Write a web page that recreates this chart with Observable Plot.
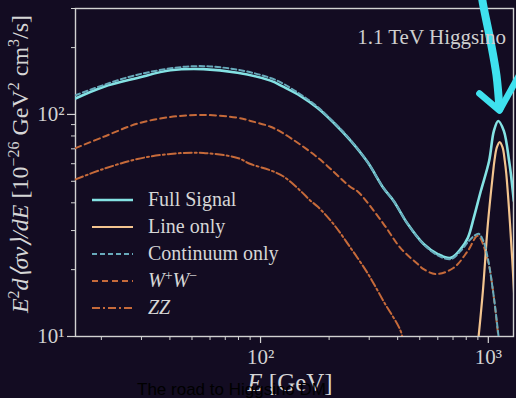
<!DOCTYPE html>
<html>
<head>
<meta charset="utf-8">
<script src="https://cdn.jsdelivr.net/npm/d3@7"></script>
<script src="https://cdn.jsdelivr.net/npm/@observablehq/plot@0.6"></script>
<style>
  html, body { margin: 0; padding: 0; background: #130c22; }
  #chart { position: relative; width: 516px; height: 398px; overflow: hidden; background: #130c22; }
</style>
</head>
<body>
<div id="chart"></div>
<script>
// ---- data (E in GeV, value in 1e-26 GeV^2 cm^3/s) ----
const E_full = [15.4, 20.4, 28.8, 40.2, 56.1, 79.2, 110.6, 126.3, 150, 178, 209, 249, 295, 347, 384, 443, 520, 600, 684, 757, 813, 863, 927, 1008, 1058, 1105, 1170, 1234, 1256, 1294];
const V_full = [118, 133, 146, 158, 160, 154, 142, 133, 121, 107, 92, 76, 61, 46.5, 40.8, 32.1, 26.1, 23.5, 22.6, 24.8, 27.8, 34.2, 45.2, 61.7, 84.3, 93.5, 84.3, 61.7, 54, 40.8];

const E_line = [880, 910, 947, 996, 1048, 1064, 1090, 1122, 1155, 1181, 1199, 1245, 1296, 1330];
const V_line = [7.5, 10.4, 16.1, 32.3, 54.2, 62, 71, 75, 71, 62, 54.2, 32.3, 16.1, 9];

const E_cont = [15.4, 28.8, 56.1, 110.6, 150, 178, 209, 249, 295, 347, 384, 443, 520, 600, 684, 757, 813, 863, 908, 950, 995, 1058, 1112, 1140];
const V_cont = [122, 151, 165, 146, 123, 108, 92.5, 76.5, 61, 46.5, 40.8, 32.1, 26, 23.2, 22.3, 24.3, 26.6, 28.3, 29, 27, 22.5, 15, 9.8, 8];

const E_ww = [15.4, 20.4, 28.8, 40.2, 56.1, 79.2, 90.4, 110.6, 126.3, 178, 249, 267, 347, 412, 490, 520, 590, 705, 813, 900, 995, 1047, 1112, 1140];
const V_ww = [70.5, 79.2, 90.9, 97.4, 99.5, 96.7, 93.5, 88, 82, 64, 47, 45, 32.1, 25, 21.2, 20.1, 19.1, 20.4, 24.3, 28.4, 22, 16.2, 9.6, 8];

const E_zz = [15.4, 20.4, 28.8, 40.2, 56.1, 79.2, 90.4, 110.6, 126.3, 150, 166, 178, 209, 249, 295, 347, 412, 425, 440];
const V_zz = [51, 56.8, 63, 66.4, 67.1, 63.7, 59.8, 56, 52.5, 45.2, 40.8, 38.5, 32.1, 25, 19.3, 14.4, 10.6, 9.2, 8];

// annotation arrow (drawn on the slide), in data coordinates
const E_arrowShaft = [933, 942, 1022, 1086, 1119];
const V_arrowShaft = [361, 326, 215, 150, 106.3];
const E_arrowHead = [914, 1119, 1356];
const V_arrowHead = [124.2, 104.1, 148.2];

const xMajor = [100, 1000];
const xTickLabels = ["10²", "10³"];
const xMinor = [20, 30, 40, 50, 60, 70, 80, 90, 200, 300, 400, 500, 600, 700, 800, 900];
const yMajor = [10, 100];
const yTickLabels = ["10¹", "10²"];
const yMinor = [20, 30, 40, 50, 60, 70, 80, 90, 200, 300];

const seriesNames = ["Full Signal", "Line only", "Continuum only", "W+W−", "ZZ"];
const titleText = "1.1 TeV Higgsino";
const captionText = "The road to Higgsino DM";

// ---- build tables ----
const toRows = (E, V) => E.map((e, i) => ({E: e, v: V[i]}));
const full = toRows(E_full, V_full);
const line = toRows(E_line, V_line);
const cont = toRows(E_cont, V_cont);
const ww = toRows(E_ww, V_ww);
const zz = toRows(E_zz, V_zz);
const shaft = toRows(E_arrowShaft, V_arrowShaft);
const head = toRows(E_arrowHead, V_arrowHead);

const C = {
  full: "#84e2e4",
  line: "#f3c48f",
  cont: "#68aabb",
  ww: "#c66a3a",
  zz: "#c66a3a",
  axis: "#d2d2d2",
  arrow: "#3fe1ef"
};

const styles = [
  {stroke: C.full, w: 2.6, dash: null},
  {stroke: C.line, w: 2.2, dash: null},
  {stroke: C.cont, w: 2, dash: "5,3"},
  {stroke: C.ww, w: 2, dash: "6,4"},
  {stroke: C.zz, w: 2, dash: "8,3,2,3"}
];

const curve = "catmull-rom";
const chart = Plot.plot({
  width: 516,
  height: 398,
  marginLeft: 75,
  marginRight: 3,
  marginTop: 8,
  marginBottom: 62,
  x: {type: "log", domain: [15.4, 1290]},
  y: {type: "log", domain: [10, 300]},
  style: {background: "transparent", color: C.axis, fontFamily: "'Liberation Serif', serif", fontSize: "20px", overflow: "visible"},
  marks: [
    Plot.frame({stroke: C.axis, strokeWidth: 1.4}),
    Plot.axisX({ticks: xMinor, tickSize: 4, tickFormat: () => "", label: null, strokeWidth: 1}),
    Plot.axisX({ticks: xMajor, tickSize: 7, tickPadding: 6, tickFormat: d => xTickLabels[xMajor.indexOf(d)], label: null, fontSize: 21, strokeWidth: 1.2}),
    Plot.axisY({ticks: yMinor, tickSize: 4, tickFormat: () => "", label: null, strokeWidth: 1}),
    Plot.axisY({ticks: yMajor, tickSize: 8, tickPadding: 3, tickFormat: d => yTickLabels[yMajor.indexOf(d)], label: null, fontSize: 21, strokeWidth: 1.2}),
    Plot.line(zz, {x: "E", y: "v", stroke: C.zz, strokeWidth: 2, strokeDasharray: "8,3,2,3", curve, clip: true}),
    Plot.line(ww, {x: "E", y: "v", stroke: C.ww, strokeWidth: 2, strokeDasharray: "6,4", curve, clip: true}),
    Plot.line(line, {x: "E", y: "v", stroke: C.line, strokeWidth: 2.2, curve, clip: true}),
    Plot.line(full, {x: "E", y: "v", stroke: C.full, strokeWidth: 2.6, curve, clip: true}),
    Plot.line(cont, {x: "E", y: "v", stroke: C.cont, strokeWidth: 2, strokeDasharray: "5,3", curve, clip: true}),
    Plot.line(shaft, {x: "E", y: "v", stroke: C.arrow, strokeWidth: 8, curve, strokeLinecap: "round"}),
    Plot.line(head, {x: "E", y: "v", stroke: C.arrow, strokeWidth: 6.5, strokeLinecap: "round", strokeLinejoin: "round"})
  ]
});

document.getElementById("chart").appendChild(chart);
const svg = d3.select(chart);
const serif = "'Liberation Serif', serif";

// title
svg.append("text")
  .attr("x", 506).attr("y", 44)
  .attr("text-anchor", "end")
  .attr("fill", "#cfcfcf")
  .attr("font-family", serif)
  .attr("font-size", 21)
  .text(titleText);

// legend
const lg = svg.append("g").attr("font-family", serif).attr("font-size", 20).attr("fill", "#d6d6d6").attr("text-anchor", "start");
seriesNames.forEach((name, i) => {
  const y = 200 + i * 27;
  const s = styles[i];
  lg.append("line")
    .attr("x1", 92).attr("x2", 133).attr("y1", y).attr("y2", y)
    .attr("stroke", s.stroke).attr("stroke-width", s.w)
    .attr("stroke-dasharray", s.dash);
  const t = lg.append("text").attr("x", 148).attr("y", y + 6).attr("text-anchor", "start");
  if (i === 3) {
    t.append("tspan").attr("font-style", "italic").text("W");
    t.append("tspan").attr("font-size", 14).attr("dy", -7).text("+");
    t.append("tspan").attr("font-style", "italic").attr("dy", 7).text("W");
    t.append("tspan").attr("font-size", 14).attr("dy", -7).text("−");
  } else if (i === 4) {
    t.append("tspan").attr("font-style", "italic").text("ZZ");
  } else {
    t.text(name);
  }
});

// x label
const xl = svg.append("text")
  .attr("x", 290).attr("y", 391)
  .attr("text-anchor", "middle")
  .attr("fill", "#d6d6d6")
  .attr("font-family", serif)
  .attr("font-size", 25);
xl.append("tspan").attr("font-style", "italic").text("E");
xl.append("tspan").text(" [GeV]");

// y label
const yl = svg.append("text")
  .attr("transform", "translate(28,164) rotate(-90)")
  .attr("text-anchor", "middle")
  .attr("fill", "#d6d6d6")
  .attr("font-family", serif)
  .attr("font-size", 24);
const sup = (txt) => { yl.append("tspan").attr("font-size", 16).attr("dy", -9).text(txt); };
const base = (txt, it) => { const t = yl.append("tspan").attr("dy", 9).text(txt); if (it) t.attr("font-style", "italic"); };
yl.append("tspan").attr("font-style", "italic").text("E");
sup("2");
base("d⟨σv⟩/dE", true);
yl.append("tspan").text(" [10");
sup("−26");
base(" GeV");
sup("2");
base(" cm");
sup("3");
base("/s]");

// caption from the slide
svg.append("text")
  .attr("x", 137).attr("y", 395)
  .attr("text-anchor", "start")
  .attr("fill", "#000")
  .attr("font-family", "'Liberation Sans', Arial, sans-serif")
  .attr("font-size", 17)
  .text(captionText);
</script>
</body>
</html>
